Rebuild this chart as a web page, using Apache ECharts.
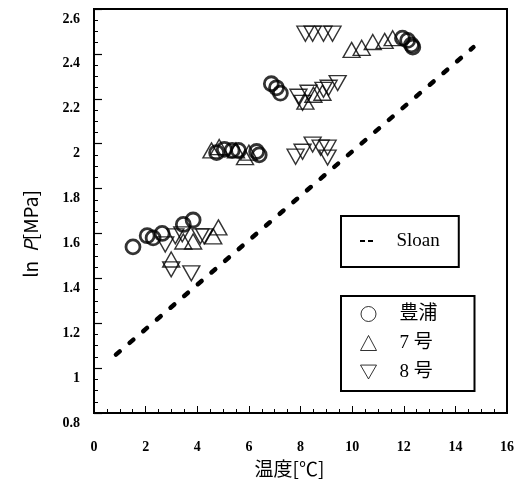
<!DOCTYPE html>
<html><head><meta charset="utf-8">
<script src="https://cdn.jsdelivr.net/npm/echarts@6/dist/echarts.min.js"></script>
<style>html,body{margin:0;padding:0;background:#fff}#c{width:517px;height:483px}</style>
</head><body><div id="c"></div>
<script>
// ---- data ----
const xTicks = [0, 2, 4, 6, 8, 10, 12, 14, 16];
const yTicks = [0.8, 1, 1.2, 1.4, 1.6, 1.8, 2, 2.2, 2.4, 2.6];
const seriesNames = ['豊浦', '7 号', '8 号'];
const toyoura = [
  [1.51,1.54],[2.06,1.59],[2.29,1.58],[2.64,1.6],[3.46,1.64],[3.84,1.66],
  [4.75,1.96],[5.05,1.975],[5.35,1.97],[5.6,1.97],[6.3,1.965],[6.4,1.95],
  [6.87,2.267],[7.07,2.249],[7.22,2.225],
  [11.95,2.47],[12.15,2.46],[12.3,2.44],[12.35,2.43]
];
const no7 = [
  [4.82,1.627],[4.62,1.587],[3.46,1.564],[3.84,1.564],[2.99,1.484],
  [4.55,1.97],[4.85,1.985],[5.5,1.97],[5.85,1.94],[6.0,1.96],
  [8.19,2.187],[8.5,2.218],[8.85,2.227],
  [9.98,2.418],[10.37,2.427],[10.8,2.453],[11.26,2.458],[11.57,2.47]
];
const no8 = [
  [2.76,1.551],[3.15,1.587],[3.42,1.596],[4.12,1.587],[4.27,1.587],[2.99,1.44],[3.77,1.422],
  [7.81,1.942],[8.08,1.964],[8.47,1.996],[8.78,1.982],[9.05,1.982],[9.05,1.938],
  [7.92,2.209],[8.08,2.182],[8.31,2.227],[8.89,2.24],[9.09,2.249],[9.44,2.27],
  [8.19,2.49],[8.47,2.49],[8.89,2.49],[9.24,2.49]
];
const sloan = [[0.85,1.06],[14.7,2.43]];

const invTri = 'path://M0,0L10,0L5,8.66Z';
const serif = 'Liberation Serif';
const cjk = 'Noto Sans CJK JP';
const hollow = {color:'rgba(0,0,0,0)', borderColor:'#000'};

const chart = echarts.init(document.getElementById('c'));
chart.setOption({
  animation:false,
  backgroundColor:'#fff',
  grid:{left:94, right:10, top:9, bottom:70, show:true, borderColor:'#000', borderWidth:2, backgroundColor:'transparent'},
  xAxis:{
    type:'value', min:xTicks[0], max:xTicks[xTicks.length-1], interval:xTicks[1]-xTicks[0],
    name:'温度[℃]', nameLocation:'middle', nameGap:44,
    nameTextStyle:{fontFamily:cjk, fontSize:19, color:'#000', padding:[0,22,0,0]},
    axisLine:{lineStyle:{color:'#000', width:2}},
    axisTick:{inside:true, length:7, lineStyle:{color:'#000', width:1}},
    minorTick:{show:true, splitNumber:4, length:4, lineStyle:{color:'#000', width:1}},
    splitLine:{show:false},
    axisLabel:{margin:27, fontFamily:serif, fontWeight:'bold', fontSize:14, color:'#000'}
  },
  yAxis:{
    type:'value', min:yTicks[0], max:yTicks[yTicks.length-1], interval:0.2,
    name:'{a|ln  }{b|P}{a|[MPa]}', nameLocation:'middle', nameGap:54, nameRotate:90,
    nameTextStyle:{padding:[0,46,0,0], rich:{
      a:{fontFamily:cjk, fontSize:19, color:'#000'},
      b:{fontFamily:cjk, fontSize:19, fontStyle:'italic', color:'#000'}}},
    axisLine:{lineStyle:{color:'#000', width:2}},
    axisTick:{inside:true, length:8, lineStyle:{color:'#000', width:1.2}},
    minorTick:{show:true, splitNumber:4, length:4, lineStyle:{color:'#000', width:1}},
    splitLine:{show:false},
    axisLabel:{margin:14, verticalAlign:'top', lineHeight:20, fontFamily:serif, fontWeight:'bold', fontSize:14, color:'#000',
      formatter:v => String(Math.round(v*10)/10)}
  },
  legend:[
    {data:[{name:'Sloan', icon:'path://M0,0h5v2h-5zM8,0h5v2h-5z'}],
     left:341, top:216, orient:'vertical', selectedMode:false,
     padding:[15,19,16,19], itemWidth:14, itemHeight:2,
     borderColor:'#000', borderWidth:2,
     itemStyle:{color:'#000', borderWidth:0},
     textStyle:{fontFamily:serif, fontSize:19, color:'#000', lineHeight:20, padding:[0,0,0,18]}},
    {data:[{name:seriesNames[0], icon:'circle'},{name:seriesNames[1], icon:'triangle'},{name:seriesNames[2], icon:invTri}],
     left:341, top:296, orient:'vertical', selectedMode:false,
     padding:[8,37,9,19], itemWidth:16, itemHeight:15, itemGap:9,
     borderColor:'#000', borderWidth:2,
     itemStyle:{color:'rgba(0,0,0,0)', borderColor:'#000', borderWidth:1},
     textStyle:{fontFamily:serif+','+cjk, fontSize:19, color:'#000', lineHeight:20, padding:[0,0,0,18]}}
  ],
  series:[
    {name:'Sloan', type:'line', data:sloan, symbol:'none', color:'#000',
     lineStyle:{color:'#000', width:4.5, type:[5,13], cap:'round'}},
    {name:seriesNames[0], type:'scatter', data:toyoura, symbol:'circle', symbolSize:14,
     itemStyle:Object.assign({borderWidth:2.8}, hollow)},
    {name:seriesNames[1], type:'scatter', data:no7, symbol:'triangle', symbolSize:[17,15],
     itemStyle:Object.assign({borderWidth:1.4}, hollow)},
    {name:seriesNames[2], type:'scatter', data:no8, symbol:invTri, symbolSize:[17,15],
     itemStyle:Object.assign({borderWidth:1.4}, hollow)}
  ]
});
</script></body></html>
